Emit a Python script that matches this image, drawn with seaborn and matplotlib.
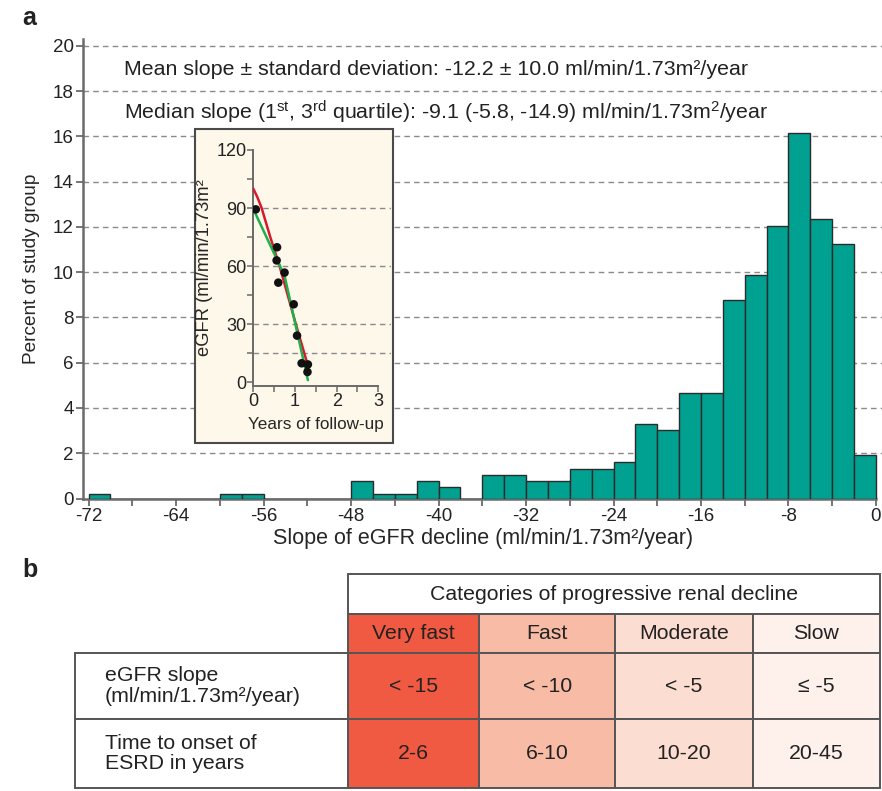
import matplotlib
matplotlib.use('Agg')
import matplotlib.pyplot as plt
from matplotlib.patches import Rectangle
from matplotlib.ticker import MultipleLocator
import seaborn as sns
import pandas as pd

# --- data: histogram of eGFR slopes (bin left edges, percent of study group) ---
bin_left = list(range(-72, 0, 2))
percent = [0.22, 0, 0, 0, 0, 0, 0.22, 0.22, 0, 0, 0, 0,
           0.78, 0.22, 0.22, 0.78, 0.5, 0,
           1.05, 1.03, 0.79, 0.79, 1.32, 1.32, 1.62, 3.28, 3.03, 4.65, 4.65,
           8.78, 9.88, 12.06, 16.16, 12.35, 11.25, 1.94]

# --- inset: one patient's eGFR over follow-up ---
follow_years = [0.06, 0.57, 0.56, 0.60, 0.75, 0.97, 1.05, 1.16, 1.31, 1.30]
egfr_values = [89.3, 69.7, 62.9, 51.4, 56.6, 40.2, 24.0, 9.7, 9.1, 5.2]
red_fit_x = [0, 0.1, 0.2, 0.4, 0.63, 1.02, 1.29]
red_fit_y = [100, 95.5, 90, 75.5, 60, 30, 10]
green_fit_x = [0, 0.75, 1.31]
green_fit_y = [89.5, 55, 1]

# --- table (panel b) ---
categories = ['Very fast', 'Fast', 'Moderate', 'Slow']
slope_cut = ['< -15', '< -10', '< -5', '\u2264 -5']
esrd_years = ['2-6', '6-10', '10-20', '20-45']
row_labels = ['eGFR slope\n(ml/min/1.73m\u00b2/year)', 'Time to onset of\nESRD in years']
cat_colors = ['#F15A42', '#F8BBA5', '#FCDDD1', '#FEF0EA']

W, H = 882, 791
TEAL = '#00A190'
GRID = '#8a8a8a'
SPINE = '#6a6a6a'

sns.set_style('ticks')
plt.rcParams['font.family'] = ['Liberation Sans', 'DejaVu Sans']
plt.rcParams['mathtext.fontset'] = 'custom'
plt.rcParams['mathtext.rm'] = 'Liberation Sans'
plt.rcParams['mathtext.it'] = 'Liberation Sans:italic'
plt.rcParams['mathtext.bf'] = 'Liberation Sans:bold'
plt.rcParams['axes.unicode_minus'] = False
plt.rcParams['text.color'] = '#222222'
plt.rcParams['xtick.color'] = SPINE
plt.rcParams['ytick.color'] = SPINE
plt.rcParams['xtick.labelcolor'] = '#222222'
plt.rcParams['ytick.labelcolor'] = '#222222'


def fx(px):
    return px / W


def fy(py):
    return 1 - py / H


fig = plt.figure(figsize=(W / 100, H / 100), dpi=100)

# ---------------- panel a: histogram ----------------
ax = fig.add_axes([fx(83.3), fy(498.5), fx(882 - 83.3), (498.5 - 39) / H])
hist_df = pd.DataFrame({'slope': [b + 1 for b in bin_left], 'pct': percent})
sns.histplot(data=hist_df, x='slope', weights='pct', bins=bin_left + [0],
             color=TEAL, alpha=1, edgecolor='#2b2b2b', linewidth=1.0,
             ax=ax, zorder=3)
ax.set_xlim(-72.48, 0.55)
ax.set_ylim(0, 20.3)
for v in range(2, 21, 2):
    ax.axhline(v, color=GRID, lw=1, ls=(0, (4, 3)), zorder=1)
ax.set_yticks(range(0, 21, 2))
ax.set_xticks(range(-72, 1, 8))
ax.xaxis.set_minor_locator(MultipleLocator(4))
ax.tick_params(axis='both', which='both', direction='out', length=5, width=1.3,
               labelsize=13.5, pad=2)
for s in ['top', 'right']:
    ax.spines[s].set_visible(False)
for s in ['left', 'bottom']:
    ax.spines[s].set_color(SPINE)
    ax.spines[s].set_linewidth(1.8)
ax.spines['bottom'].set_bounds(-72.48, 0)
ax.set_xlabel('Slope of eGFR decline (ml/min/1.73m\u00b2/year)', fontsize=15.5, labelpad=2)
ax.set_ylabel('Percent of study group', fontsize=13.7, labelpad=9)

ax.text(-68.76, 18.7,
        'Mean slope \u00b1 standard deviation: -12.2 \u00b1 10.0 ml/min/1.73m\u00b2/year',
        fontsize=15.4, va='baseline', ha='left', zorder=4)
ax.text(-68.76, 16.75,
        r'Median slope (1$^{\rm st}$, 3$^{\rm rd}$ quartile): -9.1 (-5.8, -14.9) ml/min/1.73m$^{\rm 2}$/year',
        fontsize=15.4, va='baseline', ha='left', zorder=4)

fig.text(fx(22), fy(18), 'a', fontsize=18, fontweight='bold', va='center')
fig.text(fx(22), fy(570), 'b', fontsize=18, fontweight='bold', va='center')

# inset box
box = Rectangle((fx(195), fy(443)), fx(198), 314 / H, transform=fig.transFigure,
                facecolor='#FDF8EA', edgecolor='#4a4a4a', linewidth=1.5, zorder=1)
fig.add_artist(box)

ins = fig.add_axes([fx(253.3), fy(385.9), fx(137.5), (385.9 - 150) / H])
ins.set_zorder(2)
ins.patch.set_alpha(0)
ins.set_xlim(0, 3.3)
ins.set_ylim(-2, 120)
for v in [15, 30, 60, 90]:
    ins.axhline(v, color=GRID, lw=1, ls=(0, (4, 3)), zorder=1)
sns.lineplot(x=red_fit_x, y=red_fit_y, color='#D7192E', lw=1.8, ax=ins, zorder=3)
sns.lineplot(x=green_fit_x, y=green_fit_y, color='#1DB04B', lw=1.8, ax=ins, zorder=3)
sns.scatterplot(x=follow_years, y=egfr_values, color='#111111', s=38,
                edgecolor='none', ax=ins, zorder=4)
ins.set_xticks([0, 1, 2, 3])
ins.xaxis.set_minor_locator(MultipleLocator(0.5))
ins.set_yticks([0, 30, 60, 90, 120])
ins.yaxis.set_minor_locator(MultipleLocator(15))
ins.tick_params(axis='both', which='both', direction='out', length=4, width=1.1,
                labelsize=13, pad=1)
for s in ['top', 'right']:
    ins.spines[s].set_visible(False)
for s in ['left', 'bottom']:
    ins.spines[s].set_color(SPINE)
    ins.spines[s].set_linewidth(1.4)
ins.spines['bottom'].set_bounds(0, 3)
ins.spines['left'].set_bounds(-2, 120)
ins.set_xlabel('Years of follow-up', fontsize=12.3, labelpad=1)
ins.xaxis.set_label_coords(0.456, -0.13)
ins.set_ylabel('eGFR (ml/min/1.73m\u00b2', fontsize=13.2, labelpad=2)

# ---------------- panel b: table ----------------
tab = fig.add_axes([0, 0, 1, 1])
tab.set_xlim(0, W)
tab.set_ylim(H, 0)
tab.axis('off')
col_edges = [348.3, 479.3, 615, 753, 880]
row_edges = [574, 614.3, 652.7, 719.3, 787.7]
label_left = 75
LINE = '#555555'


def cell(x0, x1, y0, y1, color='white'):
    tab.add_patch(Rectangle((x0, y0), x1 - x0, y1 - y0, facecolor=color,
                            edgecolor=LINE, linewidth=1.4))


cell(col_edges[0], col_edges[-1], row_edges[0], row_edges[1])
tab.text((col_edges[0] + col_edges[-1]) / 2, (row_edges[0] + row_edges[1]) / 2,
         'Categories of progressive renal decline', ha='center', va='center', fontsize=15.3)

for i, name in enumerate(categories):
    x0, x1 = col_edges[i], col_edges[i + 1]
    for r in range(3):
        cell(x0, x1, row_edges[r + 1], row_edges[r + 2], cat_colors[i])
    xc = (x0 + x1) / 2
    tab.text(xc, (row_edges[1] + row_edges[2]) / 2, name, ha='center', va='center', fontsize=15.3)
    tab.text(xc, (row_edges[2] + row_edges[3]) / 2, slope_cut[i], ha='center', va='center', fontsize=15.3)
    tab.text(xc, (row_edges[3] + row_edges[4]) / 2, esrd_years[i], ha='center', va='center', fontsize=15.3)

for r, lab in enumerate(row_labels):
    y0, y1 = row_edges[r + 2], row_edges[r + 3]
    cell(label_left, col_edges[0], y0, y1)
    tab.text(105, (y0 + y1) / 2, lab, ha='left', va='center', fontsize=15.3, linespacing=1.1)

fig.savefig('out.png', dpi=100)
